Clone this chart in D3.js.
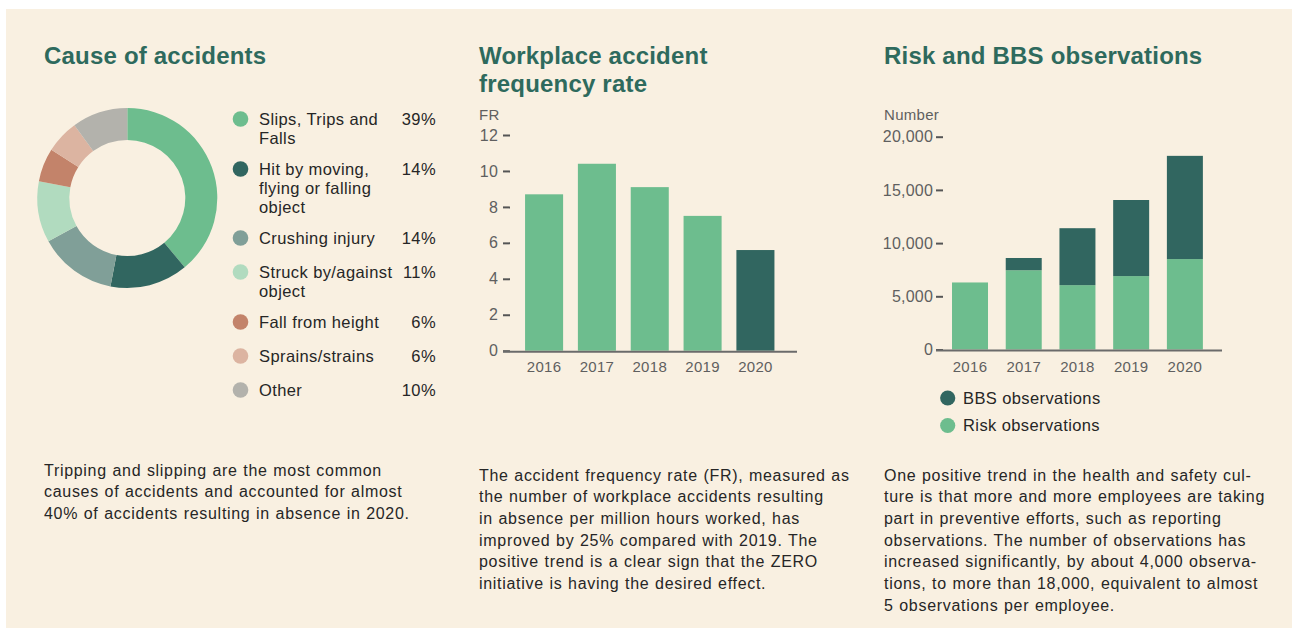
<!DOCTYPE html>
<html>
<head>
<meta charset="utf-8">
<script src="https://cdn.jsdelivr.net/npm/d3@7"></script>
<style>
  html, body { margin: 0; padding: 0; background: #ffffff; }
  svg { display: block; font-family: "Liberation Sans", Arial, Helvetica, sans-serif; }
  .title { font-weight: 700; font-size: 24px; fill: #2e6a5d; letter-spacing: 0.2px; }
  .body { font-size: 16px; fill: #262626; letter-spacing: 0.7px; word-spacing: 0.5px; }
  .legend { font-size: 16.5px; fill: #262626; letter-spacing: 0.4px; }
  .ytick .tick text { font-size: 16px; fill: #5f5f5f; letter-spacing: 0.2px; font-family: "Liberation Sans", Arial, sans-serif; }
  .xtick .tick text { font-size: 15px; fill: #5f5f5f; letter-spacing: 0.3px; font-family: "Liberation Sans", Arial, sans-serif; }
  .unit { font-size: 15px; fill: #5f5f5f; letter-spacing: 0.3px; }
</style>
</head>
<body>
<svg id="chart" width="1292" height="628"></svg>
<script>
// ---- Cause of accidents (share of accidents, %) ----
const causeLabels = [
  ["Slips, Trips and", "Falls"],
  ["Hit by moving,", "flying or falling", "object"],
  ["Crushing injury"],
  ["Struck by/against", "object"],
  ["Fall from height"],
  ["Sprains/strains"],
  ["Other"]
];
const causeShares = [39, 14, 14, 11, 6, 6, 10];
const causeColors = ["#6dbd8e", "#316660", "#809f98", "#b1dbbf", "#c3836a", "#dcb4a1", "#b3b2ac"];

// ---- Workplace accident frequency rate ----
const years = ["2016", "2017", "2018", "2019", "2020"];
const frequencyRate = [8.7, 10.4, 9.1, 7.5, 5.6];
const frTicks = [0, 2, 4, 6, 8, 10, 12];

// ---- Risk and BBS observations ----
const riskObservations = [6300, 7450, 6050, 6900, 8500];
const bbsObservations = [0, 1150, 5350, 7150, 9700];
const obsTicks = [0, 5000, 10000, 15000, 20000];
const obsSeries = ["Risk observations", "BBS observations"];
const obsLegend = ["BBS observations", "Risk observations"];

const green = "#6dbd8e", darkGreen = "#316660";

// ---- Text blocks ----
const causeText = [
  "Tripping and slipping are the most common",
  "causes of accidents and accounted for almost",
  "40% of accidents resulting in absence in 2020."
];
const frText = [
  "The accident frequency rate (FR), measured as",
  "the number of workplace accidents resulting",
  "in absence per million hours worked, has",
  "improved by 25% compared with 2019. The",
  "positive trend is a clear sign that the ZERO",
  "initiative is having the desired effect."
];
const obsText = [
  "One positive trend in the health and safety cul-",
  "ture is that more and more employees are taking",
  "part in preventive efforts, such as reporting",
  "observations. The number of observations has",
  "increased significantly, by about 4,000 observa-",
  "tions, to more than 18,000, equivalent to almost",
  "5 observations per employee."
];

const svg = d3.select("#chart");
svg.append("rect").attr("x", 6).attr("y", 9).attr("width", 1286).attr("height", 619).attr("fill", "#f9f0e1");

function textBlock(x, yFirst, lines, lh, cls) {
  const t = svg.append("text").attr("class", cls);
  lines.forEach((s, i) => {
    t.append("tspan").attr("x", x).attr("y", yFirst + i * lh).attr("dy", "0.35em").text(s);
  });
  return t;
}

// ================= Panel 1: donut =================
textBlock(44, 56, ["Cause of accidents"], 28, "title");

const pie = d3.pie().sort(null).value(d => d);
const arc = d3.arc().innerRadius(58).outerRadius(90);
const donut = svg.append("g").attr("transform", "translate(127.3,198)");
donut.selectAll("path")
  .data(pie(causeShares))
  .join("path")
  .attr("d", arc)
  .attr("fill", (d, i) => causeColors[i]);

const legendY = [119, 169, 238, 272, 322, 356, 390];
const legend = svg.append("g");
causeLabels.forEach((lines, i) => {
  legend.append("circle").attr("cx", 240.5).attr("cy", legendY[i]).attr("r", 7.8).attr("fill", causeColors[i]);
  const t = legend.append("text").attr("class", "legend");
  lines.forEach((s, j) => {
    t.append("tspan").attr("x", 259).attr("y", legendY[i] + j * 19).attr("dy", "0.35em").text(s);
  });
  legend.append("text").attr("class", "legend").attr("x", 436).attr("y", legendY[i]).attr("dy", "0.35em")
    .attr("text-anchor", "end").text(causeShares[i] + "%");
});

textBlock(44, 470, causeText, 21.5, "body");

// ================= Panel 2: frequency rate =================
textBlock(479, 56, ["Workplace accident", "frequency rate"], 27.5, "title");
svg.append("text").attr("class", "unit").attr("x", 479).attr("y", 115).attr("dy", "0.35em").text("FR");

const x2 = d3.scaleBand().domain(years).range([502.5, 797]).paddingInner(0.28).paddingOuter(0.427);
const y2 = d3.scaleLinear().domain([0, 12]).range([350.7, 135]);

svg.append("g").selectAll("rect")
  .data(frequencyRate)
  .join("rect")
  .attr("x", (d, i) => x2(years[i]))
  .attr("width", x2.bandwidth())
  .attr("y", d => y2(d))
  .attr("height", d => y2(0) - y2(d))
  .attr("fill", (d, i) => i === years.length - 1 ? darkGreen : green);

function styleAxis(g) {
  g.select(".domain").remove();
  g.selectAll(".tick line").attr("stroke", "#555").attr("stroke-width", 2);
}

svg.append("g").attr("class", "ytick").attr("transform", "translate(510,0)")
  .call(d3.axisLeft(y2).tickValues(frTicks).tickSize(7).tickPadding(5).tickFormat(d3.format("d")))
  .call(styleAxis);

svg.append("line").attr("x1", 503).attr("x2", 797).attr("y1", y2(0) + 1).attr("y2", y2(0) + 1)
  .attr("stroke", "#6b6b6b").attr("stroke-width", 2);

svg.append("g").attr("class", "xtick").attr("transform", `translate(0,${y2(0) + 9})`)
  .call(d3.axisBottom(x2).tickSize(0).tickPadding(0))
  .call(g => g.select(".domain").remove())
  .call(g => g.selectAll(".tick text").attr("dy", "0.35em").attr("y", 7));

textBlock(479, 475, frText, 21.7, "body");

// ================= Panel 3: observations =================
textBlock(884, 56, ["Risk and BBS observations"], 28, "title");
svg.append("text").attr("class", "unit").attr("x", 884).attr("y", 115).attr("dy", "0.35em").text("Number");

const x3 = d3.scaleBand().domain(years).range([935.9, 1219]).paddingInner(0.33).paddingOuter(0.3);
const y3 = d3.scaleLinear().domain([0, 20000]).range([349.5, 136.7]);

const obsRows = years.map((yr, i) => ({
  year: yr,
  "Risk observations": riskObservations[i],
  "BBS observations": bbsObservations[i]
}));
const stacked = d3.stack().keys(obsSeries)(obsRows);
const obsColor = d3.scaleOrdinal().domain(obsSeries).range([green, darkGreen]);

svg.append("g").selectAll("g")
  .data(stacked)
  .join("g")
  .attr("fill", d => obsColor(d.key))
  .selectAll("rect")
  .data(d => d.filter(p => p[1] > p[0]))
  .join("rect")
  .attr("x", d => x3(d.data.year))
  .attr("width", x3.bandwidth())
  .attr("y", d => y3(d[1]))
  .attr("height", d => y3(d[0]) - y3(d[1]));

svg.append("g").attr("class", "ytick").attr("transform", "translate(943,0)")
  .call(d3.axisLeft(y3).tickValues(obsTicks).tickSize(7).tickPadding(3).tickFormat(d3.format(",")))
  .call(styleAxis);

svg.append("line").attr("x1", 936).attr("x2", 1222).attr("y1", y3(0) + 1).attr("y2", y3(0) + 1)
  .attr("stroke", "#6b6b6b").attr("stroke-width", 2);

svg.append("g").attr("class", "xtick").attr("transform", `translate(0,${y3(0) + 10})`)
  .call(d3.axisBottom(x3).tickSize(0).tickPadding(0))
  .call(g => g.select(".domain").remove())
  .call(g => g.selectAll(".tick text").attr("dy", "0.35em").attr("y", 7.5));

const obsLegendG = svg.append("g");
obsLegend.forEach((name, i) => {
  const cy = 398 + i * 27.5;
  obsLegendG.append("circle").attr("cx", 947.7).attr("cy", cy).attr("r", 7.6).attr("fill", obsColor(name));
  obsLegendG.append("text").attr("class", "legend").attr("x", 963).attr("y", cy).attr("dy", "0.35em").text(name);
});

textBlock(884, 475, obsText, 21.7, "body");
</script>
</body>
</html>
